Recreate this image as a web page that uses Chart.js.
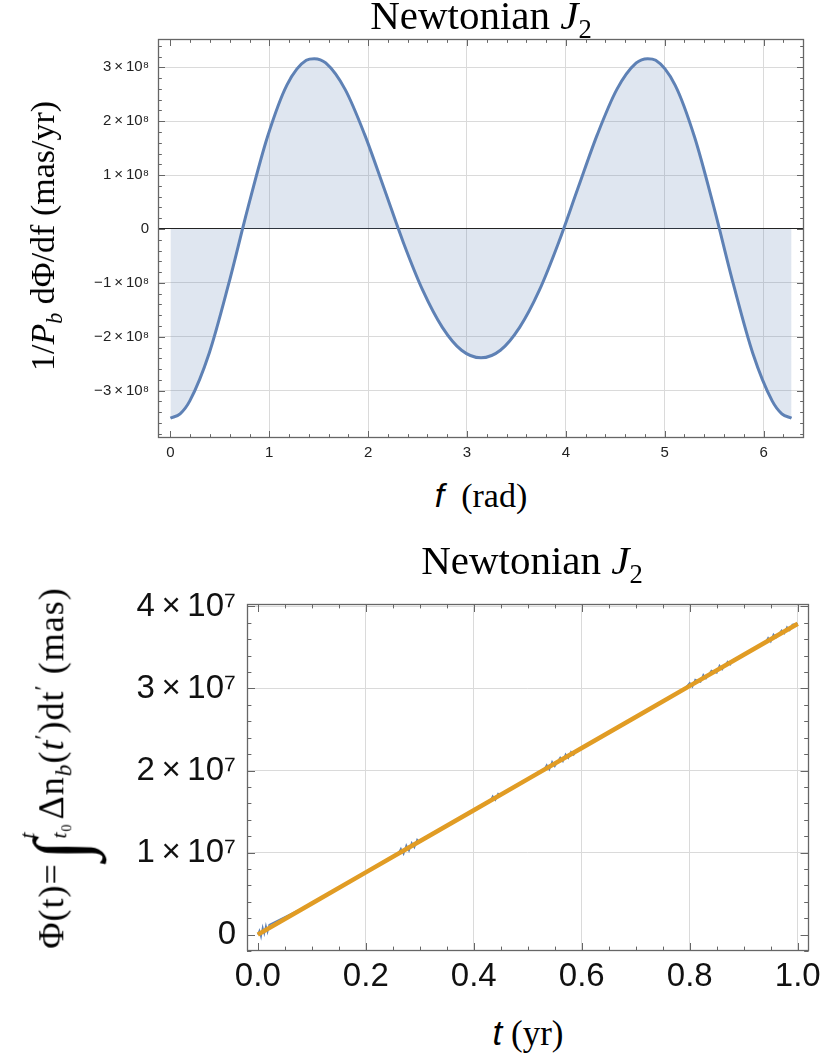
<!DOCTYPE html>
<html>
<head>
<meta charset="utf-8">
<script src="https://cdn.jsdelivr.net/npm/chart.js@4.4.1/dist/chart.umd.min.js"></script>
<style>
body { margin: 0; background: #fff; }
#page { position: relative; width: 827px; height: 1061px; overflow: hidden; }
canvas { position: absolute; left: 0; }
.lbl { position: absolute; font-family: "Liberation Serif", serif; color: #000; white-space: nowrap; line-height: 1; }
.ctr { transform: translateX(-50%); }
.rot { transform: translate(-50%, -50%) rotate(-90deg); }
.it { font-family: "Liberation Sans", sans-serif; font-style: italic; }
sub, sup { font-size: 0.65em; line-height: 0; }
.int { font-size: 2.1em; vertical-align: -0.3em; margin-left: 3px; }
.lim { display: inline-block; vertical-align: -0.15em; font-size: 0.6em; line-height: 1.5; margin-right: 4px; }
.lim span { display: block; }
.wide { letter-spacing: 1px; }
</style>
</head>
<body>
<div id="page">
<canvas id="chart" width="827" height="470" style="top:0"></canvas>
<canvas id="chart2" width="827" height="460" style="top:540px"></canvas>

<div class="lbl ctr" style="left:481px;top:-5px;font-size:41px">Newtonian <i>J</i><sub>2</sub></div>
<div class="lbl ctr" style="left:481px;top:478px;font-size:34px"><span class="it">f</span>&nbsp; (rad)</div>
<div class="lbl rot" style="left:43px;top:236px;font-size:34px">1/<i>P</i><sub><i>b</i></sub> dΦ/df (mas/yr)</div>

<div class="lbl ctr" style="left:532px;top:540px;font-size:41px">Newtonian <i>J</i><sub>2</sub></div>
<div class="lbl ctr" style="left:528px;top:1015px;font-size:35px"><span class="it">t</span>&nbsp;(yr)</div>
<div class="lbl rot wide" style="left:55px;top:768px;font-size:36px">Φ(t)=<span class="int">∫</span><span class="lim"><span><i>t</i></span><span><i>t</i><sub>0</sub></span></span>Δn<sub><i>b</i></sub>(<i>t</i><sup>′</sup>)dt<sup>′</sup>&nbsp;(mas)</div>
</div>

<script>
// top panel: rate vs true anomaly
var fValues = [0, 0.098, 0.196, 0.393, 0.589, 0.785, 0.982, 1.178, 1.374, 1.455, 1.571, 1.767, 1.963, 2.160, 2.356, 2.553, 2.749, 2.945, 3.142,
    3.338, 3.534, 3.731, 3.927, 4.123, 4.320, 4.516, 4.712, 4.828, 4.909, 5.105, 5.301, 5.498, 5.694, 5.890, 6.087, 6.185, 6.283];
var rateValues = [-3.51e8, -3.43e8, -3.19e8, -2.30e8, -1.02e8, 0.40e8, 1.71e8, 2.67e8, 3.13e8, 3.16e8, 3.08e8, 2.59e8, 1.76e8, 0.76e8, -0.25e8, -1.14e8, -1.82e8, -2.25e8, -2.39e8,
    -2.25e8, -1.82e8, -1.14e8, -0.25e8, 0.76e8, 1.76e8, 2.59e8, 3.08e8, 3.16e8, 3.13e8, 2.67e8, 1.71e8, 0.40e8, -1.02e8, -2.30e8, -3.19e8, -3.43e8, -3.51e8];
var fTicks = [0, 1, 2, 3, 4, 5, 6];
var rateTicks = [-3e8, -2e8, -1e8, 0, 1e8, 2e8, 3e8];

// bottom panel: accumulated shift vs time
var tBlue = [0, 0.003, 0.006, 0.009, 0.012, 0.015, 0.018, 0.021, 0.10, 0.26, 0.265, 0.27, 0.275, 0.28, 0.285, 0.29, 0.295, 0.30,
    0.40, 0.43, 0.435, 0.44, 0.445, 0.45, 0.53, 0.535, 0.54, 0.545, 0.55, 0.56, 0.565, 0.57, 0.575, 0.58, 0.585, 0.59,
    0.70, 0.79, 0.80, 0.805, 0.81, 0.82, 0.825, 0.83, 0.84, 0.85, 0.855, 0.86, 0.87, 0.875, 0.88, 0.90,
    0.94, 0.945, 0.95, 0.955, 0.96, 0.97, 0.975, 0.98, 0.985, 0.99, 1.0];
var phiBlue = [0, 0.05e7, -0.03e7, 0.09e7, 0.01e7, 0.11e7, 0.03e7, 0.12e7, 0.379e7, 0.985e7, 1.05e7, 0.98e7, 1.09e7, 1.02e7, 1.12e7, 1.06e7, 1.16e7, 1.125e7,
    1.516e7, 1.62e7, 1.69e7, 1.64e7, 1.72e7, 1.705e7, 2.009e7, 2.07e7, 2.01e7, 2.11e7, 2.05e7, 2.16e7, 2.11e7, 2.20e7, 2.15e7, 2.23e7, 2.19e7, 2.24e7,
    2.653e7, 2.994e7, 3.07e7, 3.02e7, 3.11e7, 3.08e7, 3.17e7, 3.12e7, 3.22e7, 3.19e7, 3.28e7, 3.23e7, 3.33e7, 3.29e7, 3.35e7, 3.411e7,
    3.56e7, 3.62e7, 3.57e7, 3.66e7, 3.62e7, 3.71e7, 3.67e7, 3.75e7, 3.71e7, 3.78e7, 3.79e7];
var tFit = [0, 0.1, 0.2, 0.3, 0.4, 0.5, 0.6, 0.7, 0.8, 0.9, 1.0];
var phiFit = [0, 0.379e7, 0.758e7, 1.137e7, 1.516e7, 1.895e7, 2.274e7, 2.653e7, 3.032e7, 3.411e7, 3.79e7];
var tTicks = [0, 0.2, 0.4, 0.6, 0.8, 1.0];
var phiTicks = [0, 1e7, 2e7, 3e7, 4e7];

function pairs(xs, ys) {
    return xs.map(function (v, i) { return { x: v, y: ys[i] }; });
}

function useTicks(list) {
    return function (s) { s.ticks = list.map(function (v) { return { value: v }; }); };
}

function sci(v, exp, sup) {
    if (v === 0) return '0';
    var m = Math.round(v / Math.pow(10, exp));
    return (m < 0 ? '\u2212' : '') + Math.abs(m) + '\u2009\u00d7\u200910' + sup;
}

function marks(o, min, max, cb) {
    var start = Math.ceil(min / o.minor - 1e-9);
    for (var i = start; i * o.minor <= max + 1e-9; i++) {
        var v = i * o.minor;
        var major = Math.abs(v / o.major - Math.round(v / o.major)) < 1e-6;
        cb(v, major ? o.len : o.len * 0.55);
    }
}

// Mathematica-like frame with inward ticks on all four sides
var frameTicks = {
    id: 'frameTicks',
    afterDraw: function (chart, args, opts) {
        var ctx = chart.ctx, a = chart.chartArea;
        var xs = chart.scales.x, ys = chart.scales.y;
        ctx.save();
        ctx.strokeStyle = '#666';
        ctx.lineWidth = 1;
        ctx.beginPath();
        marks(opts.x, xs.min, xs.max, function (v, len) {
            var px = Math.round(xs.getPixelForValue(v)) + 0.5;
            ctx.moveTo(px, a.bottom); ctx.lineTo(px, a.bottom - len);
            ctx.moveTo(px, a.top); ctx.lineTo(px, a.top + len);
        });
        marks(opts.y, ys.min, ys.max, function (v, len) {
            var py = Math.round(ys.getPixelForValue(v)) + 0.5;
            ctx.moveTo(a.left, py); ctx.lineTo(a.left + len, py);
            ctx.moveTo(a.right, py); ctx.lineTo(a.right - len, py);
        });
        ctx.stroke();
        ctx.lineWidth = 1.3;
        ctx.strokeRect(Math.round(a.left) + 0.5, Math.round(a.top) + 0.5, Math.round(a.right - a.left) - 1, Math.round(a.bottom - a.top) - 1);
        ctx.restore();
    }
};

var chart = new Chart('chart', {
    type: 'line',
    plugins: [frameTicks],
    data: {
        datasets: [
            {
                data: pairs(fValues, rateValues),
                borderColor: '#5e81b5',
                borderWidth: 3,
                backgroundColor: 'rgba(94,129,181,0.2)',
                fill: 'origin',
                pointRadius: 0,
                cubicInterpolationMode: 'monotone'
            }
        ]
    },
    options: {
        responsive: false,
        animation: false,
        layout: { padding: { top: 39, right: 23, left: 0, bottom: 0 } },
        plugins: {
            legend: { display: false },
            tooltip: { enabled: false },
            frameTicks: { x: { major: 1, minor: 0.2, len: 7 }, y: { major: 1e8, minor: 2e7, len: 7 } }
        },
        scales: {
            x: {
                type: 'linear',
                min: -0.1257,
                max: 6.409,
                afterBuildTicks: useTicks(fTicks),
                afterFit: function (s) { s.height = 32; },
                border: { display: false },
                grid: {
                    drawTicks: false,
                    color: function (c) { return c.tick.value === 0 ? 'rgba(0,0,0,0)' : '#dadada'; }
                },
                ticks: {
                    padding: 6,
                    color: '#222',
                    font: { family: 'Liberation Sans', size: 15 },
                    maxRotation: 0,
                    autoSkip: false
                }
            },
            y: {
                min: -3.878e8,
                max: 3.525e8,
                afterBuildTicks: useTicks(rateTicks),
                afterFit: function (s) { s.width = 158; },
                border: { display: false },
                grid: {
                    drawTicks: false,
                    color: function (c) { return c.tick.value === 0 ? '#222' : '#dadada'; }
                },
                ticks: {
                    padding: 9,
                    color: '#222',
                    autoSkip: false,
                    font: { family: 'Liberation Sans', size: 15 },
                    callback: function (v) { return sci(v, 8, '\u2078'); }
                }
            }
        }
    }
});

var chart2 = new Chart('chart2', {
    type: 'line',
    plugins: [frameTicks],
    data: {
        datasets: [
            {
                data: pairs(tFit, phiFit),
                borderColor: '#e19c24',
                borderWidth: 4.5,
                pointRadius: 0,
                fill: false
            },
            {
                data: pairs(tBlue, phiBlue),
                borderColor: '#5e81b5',
                borderWidth: 1.5,
                pointRadius: 0,
                fill: false
            }
        ]
    },
    options: {
        responsive: false,
        animation: false,
        layout: { padding: { top: 64, right: 15, left: 0, bottom: 0 } },
        plugins: {
            legend: { display: false },
            tooltip: { enabled: false },
            frameTicks: { x: { major: 0.2, minor: 0.05, len: 8 }, y: { major: 1e7, minor: 2e6, len: 8 } }
        },
        scales: {
            x: {
                type: 'linear',
                min: -0.02,
                max: 1.02,
                afterBuildTicks: useTicks(tTicks),
                afterFit: function (s) { s.height = 49; },
                border: { display: false },
                grid: {
                    drawTicks: false,
                    color: function (c) { return c.tick.value === 0 ? 'rgba(0,0,0,0)' : '#dadada'; }
                },
                ticks: {
                    padding: 6,
                    color: '#111',
                    autoSkip: false,
                    font: { family: 'Liberation Sans', size: 33 },
                    maxRotation: 0,
                    callback: function (v) { return v.toFixed(1); }
                }
            },
            y: {
                min: -0.2e7,
                max: 4.03e7,
                afterBuildTicks: useTicks(phiTicks),
                afterFit: function (s) { s.width = 247; },
                border: { display: false },
                grid: {
                    drawTicks: false,
                    color: function (c) { return c.tick.value === 0 ? 'rgba(0,0,0,0)' : '#dadada'; }
                },
                ticks: {
                    padding: 11,
                    color: '#111',
                    autoSkip: false,
                    font: { family: 'Liberation Sans', size: 33 },
                    callback: function (v) { return sci(v, 7, '\u2077'); }
                }
            }
        }
    }
});
</script>
</body>
</html>
